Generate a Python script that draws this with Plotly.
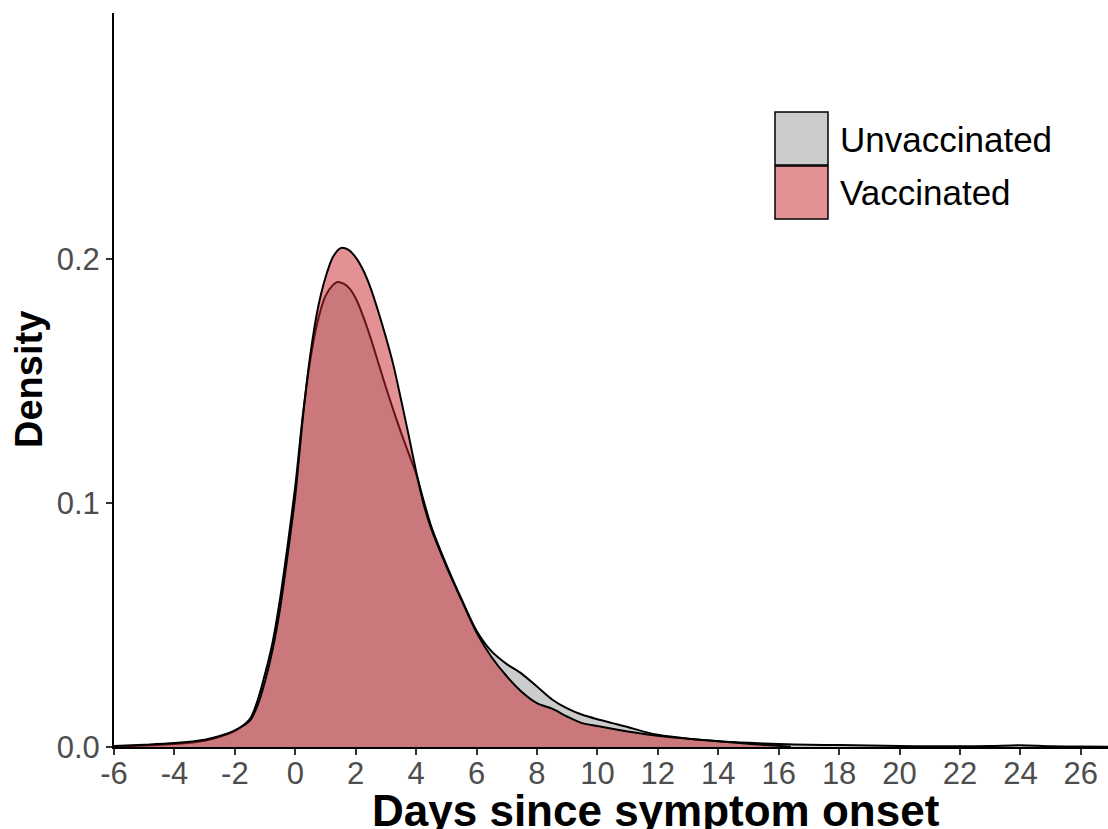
import plotly.graph_objects as go

# ---------------- data ----------------
days_unvacc = [-6, -5, -4, -3, -2.5, -2, -1.5, -1.25, -1, -0.75, -0.5, -0.25, 0, 0.25, 0.5,
               0.75, 1.0, 1.25, 1.4, 1.6, 1.8, 2.0, 2.25, 2.5, 2.75, 3.0, 3.25, 3.5, 3.75, 4.0,
               4.25, 4.5, 5.0, 5.5, 6.0, 6.5, 7.0, 7.5, 8.0, 8.5, 9.0, 9.5, 10, 10.5, 11, 11.5,
               12, 13, 14, 15, 16, 17, 18, 19, 20, 21, 22, 23, 24, 25, 26, 26.9]
density_unvacc = [0.0002, 0.0006, 0.0012, 0.0026, 0.0042, 0.0066, 0.0115, 0.019, 0.030, 0.043,
                  0.061, 0.083, 0.107, 0.136, 0.159, 0.175, 0.185, 0.1895, 0.1907, 0.1900, 0.1880,
                  0.1840, 0.1765, 0.1675, 0.1575, 0.1475, 0.1380, 0.1290, 0.1205, 0.1120, 0.1010,
                  0.0905, 0.0748, 0.0607, 0.0477, 0.0392, 0.0340, 0.0300, 0.0248, 0.0195, 0.0158,
                  0.0132, 0.0114, 0.0098, 0.0082, 0.0064, 0.0050, 0.0034, 0.0024, 0.0017, 0.0012,
                  0.0009, 0.0008, 0.0006, 0.0004, 0.0003, 0.0003, 0.0004, 0.0007, 0.0003, 0.0002,
                  0.0001]

days_vacc = [-6, -5, -4, -3, -2.5, -2, -1.5, -1.25, -1, -0.75, -0.5, -0.25, 0, 0.25, 0.5,
             0.75, 1.0, 1.25, 1.5, 1.75, 2.0, 2.25, 2.5, 2.75, 3.0, 3.25, 3.5, 3.75, 4.0, 4.25,
             4.5, 5.0, 5.5, 6.0, 6.5, 7.0, 7.5, 8.0, 8.5, 9.0, 9.5, 10, 11, 12, 13, 14, 15, 16, 16.4]
density_vacc = [0.0004, 0.0009, 0.0016, 0.0030, 0.0045, 0.0068, 0.0108, 0.017, 0.027, 0.040,
                0.057, 0.079, 0.103, 0.135, 0.161, 0.180, 0.1925, 0.2010, 0.2046, 0.2040, 0.2008,
                0.1955, 0.1880, 0.1785, 0.1680, 0.1565, 0.1425, 0.1280, 0.1130, 0.0995, 0.0895,
                0.0741, 0.0603, 0.0469, 0.0368, 0.0290, 0.0226, 0.0180, 0.0157, 0.0125, 0.0098,
                0.0086, 0.0064, 0.0046, 0.0034, 0.0024, 0.0013, 0.0005, 0.0001]

groups = ["Unvaccinated", "Vaccinated"]
x_ticks = list(range(-6, 27, 2))
x_tick_labels = [str(v) for v in x_ticks]
y_ticks = [0.0, 0.1, 0.2]
y_tick_labels = ["0.0", "0.1", "0.2"]

# ---------------- styling ----------------
W, H = 1108, 829
L, R, T, B = 114, 0, 13, 82
FONT = "Liberation Sans, Arial, sans-serif"
fill_unvacc = "#cccccc"
fill_vacc = "rgba(200,36,44,0.5)"


def px2paper_x(px):
    return (px - L) / (W - L - R)


def px2paper_y(py):
    return (H - B - py) / (H - B - T)


fig = go.Figure()
fig.add_trace(go.Scatter(x=days_unvacc, y=density_unvacc, name=groups[0], mode="lines",
                         line=dict(color="black", width=2, shape="spline", smoothing=0.8),
                         fill="tozeroy", fillcolor=fill_unvacc, showlegend=False))
fig.add_trace(go.Scatter(x=days_vacc, y=density_vacc, name=groups[1], mode="lines",
                         line=dict(color="black", width=2, shape="spline", smoothing=0.8),
                         fill="tozeroy", fillcolor=fill_vacc, showlegend=False))

fig.update_layout(
    width=W, height=H,
    margin=dict(l=L, r=R, t=T, b=B, pad=0),
    paper_bgcolor="white", plot_bgcolor="white",
    font=dict(family=FONT, color="black"),
    xaxis=dict(range=[-6, 26.9], tickmode="array", tickvals=x_ticks, ticktext=x_tick_labels,
               ticks="outside", ticklen=6, tickwidth=1.5, tickcolor="#333333",
               ticklabelstandoff=-8,
               showline=True, linecolor="black", linewidth=2, showgrid=False, zeroline=False,
               tickfont=dict(family=FONT, size=31, color="#4d4d4d")),
    yaxis=dict(range=[0, 0.301], tickmode="array", tickvals=y_ticks, ticktext=y_tick_labels,
               ticks="outside", ticklen=6, tickwidth=1.5, tickcolor="#333333",
               showline=True, linecolor="black", linewidth=2, showgrid=False, zeroline=False,
               tickfont=dict(family=FONT, size=31, color="#4d4d4d")),
)

# axis titles
fig.add_annotation(text="<b>Days since symptom onset</b>", xref="paper", yref="paper",
                   x=px2paper_x(656), y=px2paper_y(810), xanchor="center", yanchor="middle",
                   showarrow=False, font=dict(family=FONT, size=44, color="black"))
fig.add_annotation(text="<b>Density</b>", xref="paper", yref="paper",
                   x=px2paper_x(29), y=px2paper_y(380), xanchor="center", yanchor="middle",
                   textangle=-90, showarrow=False, font=dict(family=FONT, size=38, color="black"))

# legend (drawn manually to match the large ggplot keys)
legend_fills = [fill_unvacc, fill_vacc]
box_tops = [112, 166]
for name, fc, top in zip(groups, legend_fills, box_tops):
    fig.add_shape(type="rect", xref="paper", yref="paper",
                  x0=px2paper_x(775), x1=px2paper_x(828),
                  y0=px2paper_y(top), y1=px2paper_y(top + 53),
                  fillcolor="white", line=dict(width=0))
    fig.add_shape(type="rect", xref="paper", yref="paper",
                  x0=px2paper_x(775), x1=px2paper_x(828),
                  y0=px2paper_y(top), y1=px2paper_y(top + 53),
                  fillcolor=fc, line=dict(color="black", width=1.5))
    fig.add_annotation(text=name, xref="paper", yref="paper",
                       x=px2paper_x(838), y=px2paper_y(top + 27), xanchor="left", yanchor="middle",
                       showarrow=False, font=dict(family=FONT, size=35, color="black"))

fig.write_html("out.html", config={"displayModeBar": False},
               post_script="document.body.style.margin='0';document.body.style.overflow='hidden';")
